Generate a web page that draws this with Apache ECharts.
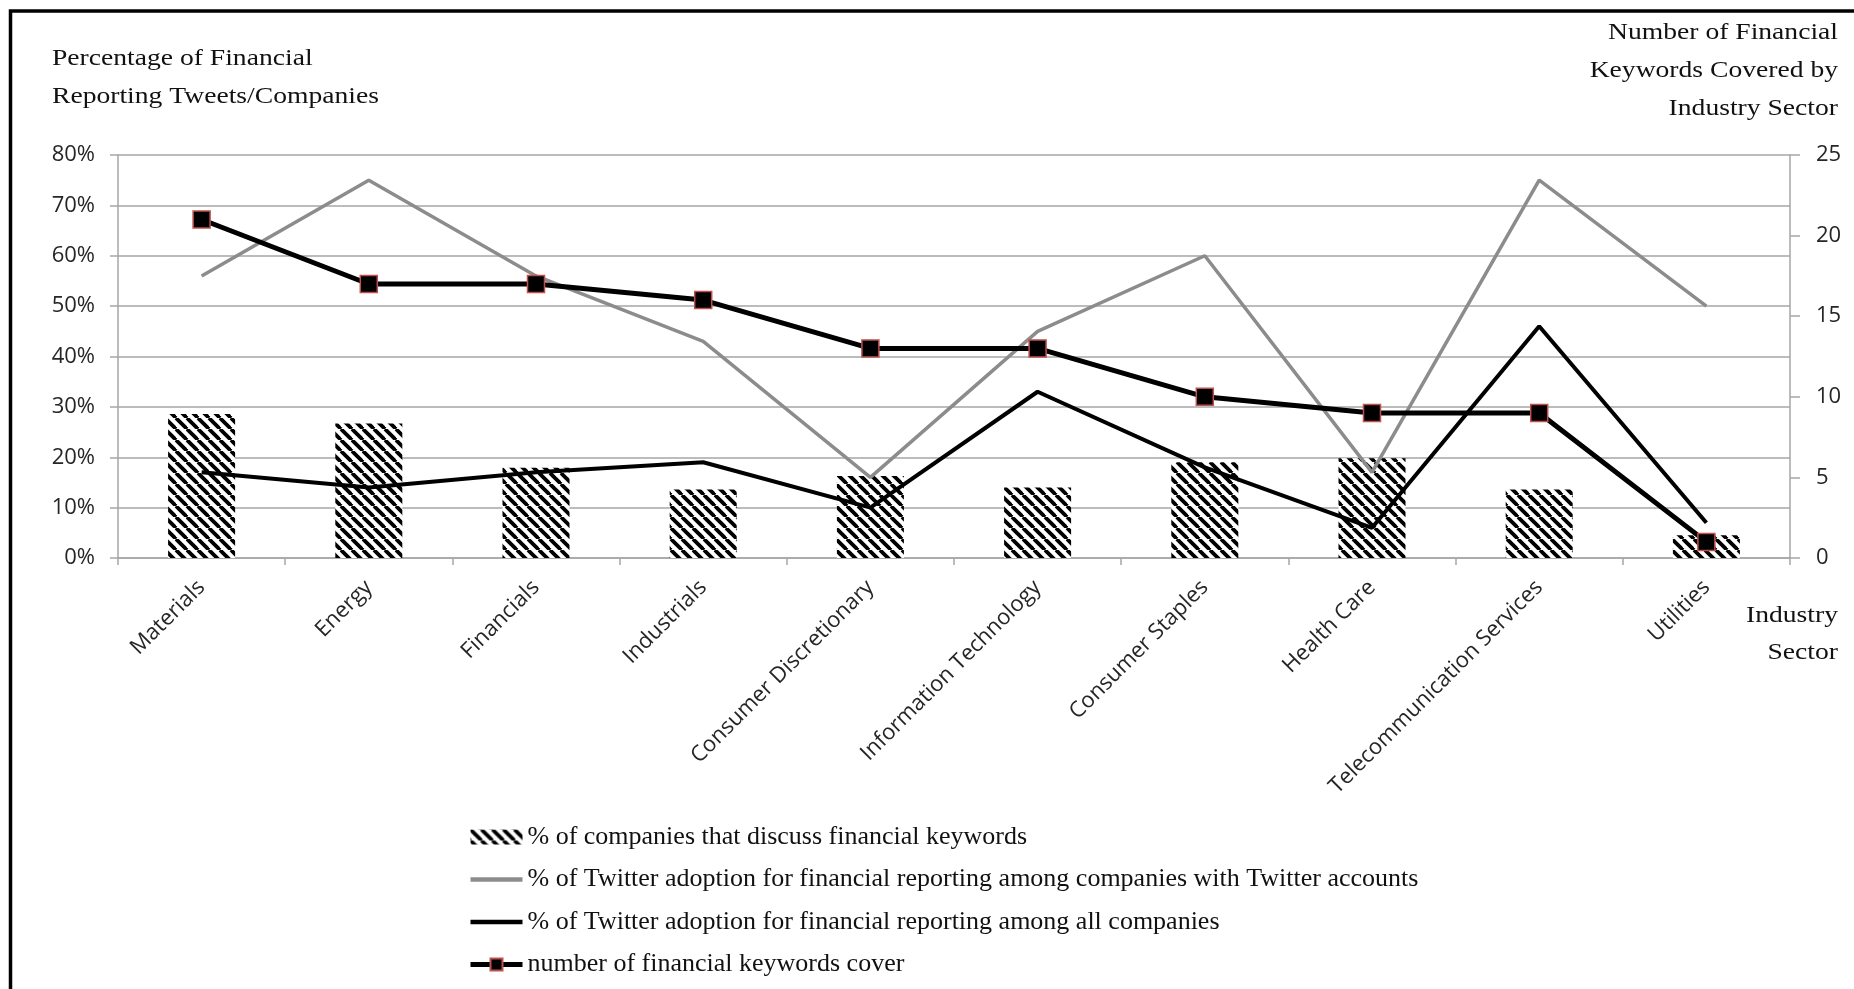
<!DOCTYPE html>
<html>
<head>
<meta charset="utf-8">
<title>Financial reporting on Twitter by industry sector</title>
<script src="https://cdn.jsdelivr.net/npm/echarts@6/dist/echarts.min.js"></script>
<style>
  html, body { margin: 0; padding: 0; background: #fff; }
  #chart { width: 1854px; height: 989px; }
</style>
</head>
<body>
<div id="chart"></div>
<script>
// Industry sectors on the category axis
const sectors = [
  'Materials', 'Energy', 'Financials', 'Industrials', 'Consumer Discretionary',
  'Information Technology', 'Consumer Staples', 'Health Care',
  'Telecommunication Services', 'Utilities'
];
// % of companies that discuss financial keywords (bars)
const discussPct = [28.6, 26.7, 17.9, 13.6, 16.3, 14.0, 19.0, 19.8, 13.6, 4.5];
// % of Twitter adoption for financial reporting among companies with Twitter accounts
const adoptionTwitterPct = [56, 75, 56, 43, 16, 45, 60, 17, 75, 50];
// % of Twitter adoption for financial reporting among all companies
const adoptionAllPct = [17, 14, 17, 19, 10, 33, 18, 6, 46, 7];
// Number of financial keywords covered (right axis)
const keywordCount = [21, 17, 17, 16, 13, 13, 10, 9, 9, 1];

const leftTicks = { min: 0, max: 80, interval: 10 };
const rightTicks = { min: 0, max: 25, interval: 5 };

const seriesNames = [
  '% of companies that discuss financial keywords',
  '% of Twitter adoption for financial reporting among companies with Twitter accounts',
  '% of Twitter adoption for financial reporting among all companies',
  'number of financial keywords cover'
];

// Diagonal hatch fill ("\\\\") for the bars
function makeHatch(period, width) {
  const c = document.createElement('canvas');
  c.width = period; c.height = period;
  const g = c.getContext('2d');
  g.fillStyle = '#fff';
  g.fillRect(0, 0, period, period);
  g.strokeStyle = '#000';
  g.lineWidth = width;
  g.lineCap = 'butt';
  for (let k = -1; k <= 1; k++) {
    g.beginPath();
    g.moveTo(k * period, 0);
    g.lineTo(k * period + period, period);
    g.stroke();
  }
  return c;
}
const hatch = { image: makeHatch(11, 3.8), repeat: 'repeat' };

const axisGray = '#a6a6a6';
const tickFont = '"Open Sans", "DejaVu Sans", sans-serif';
const serifFont = '"Liberation Serif", "DejaVu Serif", serif';

// Serif caption text, slightly widened
function caption(x, y, text, align, lineHeight) {
  return {
    type: 'text', silent: true,
    x: x, y: y, scaleX: 1.2,
    style: {
      x: 0, y: 0, text: text,
      font: '23px ' + serifFont, fill: '#111', lineHeight: lineHeight,
      align: align, verticalAlign: 'top'
    }
  };
}

const chart = echarts.init(document.getElementById('chart'));
chart.setOption({
  animation: false,
  backgroundColor: '#fff',
  grid: { left: 118, right: 64, top: 155, height: 403, containLabel: false },
  xAxis: {
    type: 'category',
    data: sectors,
    boundaryGap: true,
    axisLine: { show: true, lineStyle: { color: axisGray, width: 1.5 } },
    axisTick: { show: true, alignWithLabel: false, length: 7, lineStyle: { color: axisGray, width: 1.5 } },
    axisLabel: {
      interval: 0, rotate: 45, margin: 26,
      fontFamily: tickFont, fontSize: 22, color: '#262626'
    },
    splitLine: { show: false }
  },
  yAxis: [
    {
      type: 'value', position: 'left',
      min: leftTicks.min, max: leftTicks.max, interval: leftTicks.interval,
      axisLine: { show: true, lineStyle: { color: axisGray, width: 1.5 } },
      axisTick: { show: true, length: 8, lineStyle: { color: axisGray, width: 1.5 } },
      axisLabel: {
        margin: 23, fontFamily: tickFont, fontSize: 22, color: '#262626',
        formatter: v => v + '%'
      },
      splitLine: { show: true, lineStyle: { color: axisGray, width: 1.5 } }
    },
    {
      type: 'value', position: 'right',
      min: rightTicks.min, max: rightTicks.max, interval: rightTicks.interval,
      axisLine: { show: true, lineStyle: { color: axisGray, width: 1.5 } },
      axisTick: { show: true, length: 10, lineStyle: { color: axisGray, width: 1.5 } },
      axisLabel: { margin: 26, fontFamily: tickFont, fontSize: 22, color: '#262626' },
      splitLine: { show: false }
    }
  ],
  legend: {
    orient: 'vertical',
    left: 463, top: 819,
    itemWidth: 52, itemHeight: 15,
    itemGap: 16.5,
    selectedMode: false,
    textStyle: { fontFamily: serifFont, fontSize: 26, color: '#111', lineHeight: 24 },
    data: [
      { name: seriesNames[0], icon: 'rect' },
      { name: seriesNames[1], itemStyle: { opacity: 0 }, lineStyle: { width: 4.5, color: '#8c8c8c' } },
      { name: seriesNames[2], itemStyle: { opacity: 0 }, lineStyle: { width: 4.5, color: '#000' } },
      { name: seriesNames[3], lineStyle: { width: 5, color: '#000' } }
    ]
  },
  series: [
    {
      name: seriesNames[0], type: 'bar', yAxisIndex: 0,
      data: discussPct, barWidth: 67,
      itemStyle: { color: hatch },
      z: 1
    },
    {
      name: seriesNames[1], type: 'line', yAxisIndex: 0,
      data: adoptionTwitterPct, symbol: 'none',
      lineStyle: { color: '#8c8c8c', width: 3.5 },
      itemStyle: { color: '#8c8c8c' },
      z: 3
    },
    {
      name: seriesNames[2], type: 'line', yAxisIndex: 0,
      data: adoptionAllPct, symbol: 'none',
      lineStyle: { color: '#000', width: 4 },
      itemStyle: { color: '#000' },
      z: 4
    },
    {
      name: seriesNames[3], type: 'line', yAxisIndex: 1,
      data: keywordCount, symbol: 'rect', symbolSize: 17,
      lineStyle: { color: '#000', width: 5 },
      itemStyle: { color: '#000', borderColor: '#c0504d', borderWidth: 1.5 },
      z: 5
    }
  ],
  graphic: [
    {
      type: 'rect', silent: true, z: 100,
      shape: { x: 10.5, y: 11, width: 2000, height: 2000 },
      style: { fill: null, stroke: '#000', lineWidth: 3.5 }
    },
    caption(52, 40, 'Percentage of Financial\nReporting Tweets/Companies', 'left', 38),
    caption(1838, 14, 'Number of Financial\nKeywords Covered by\nIndustry Sector', 'right', 38),
    caption(1838, 597, 'Industry\nSector', 'right', 37)
  ]
});
</script>
</body>
</html>
